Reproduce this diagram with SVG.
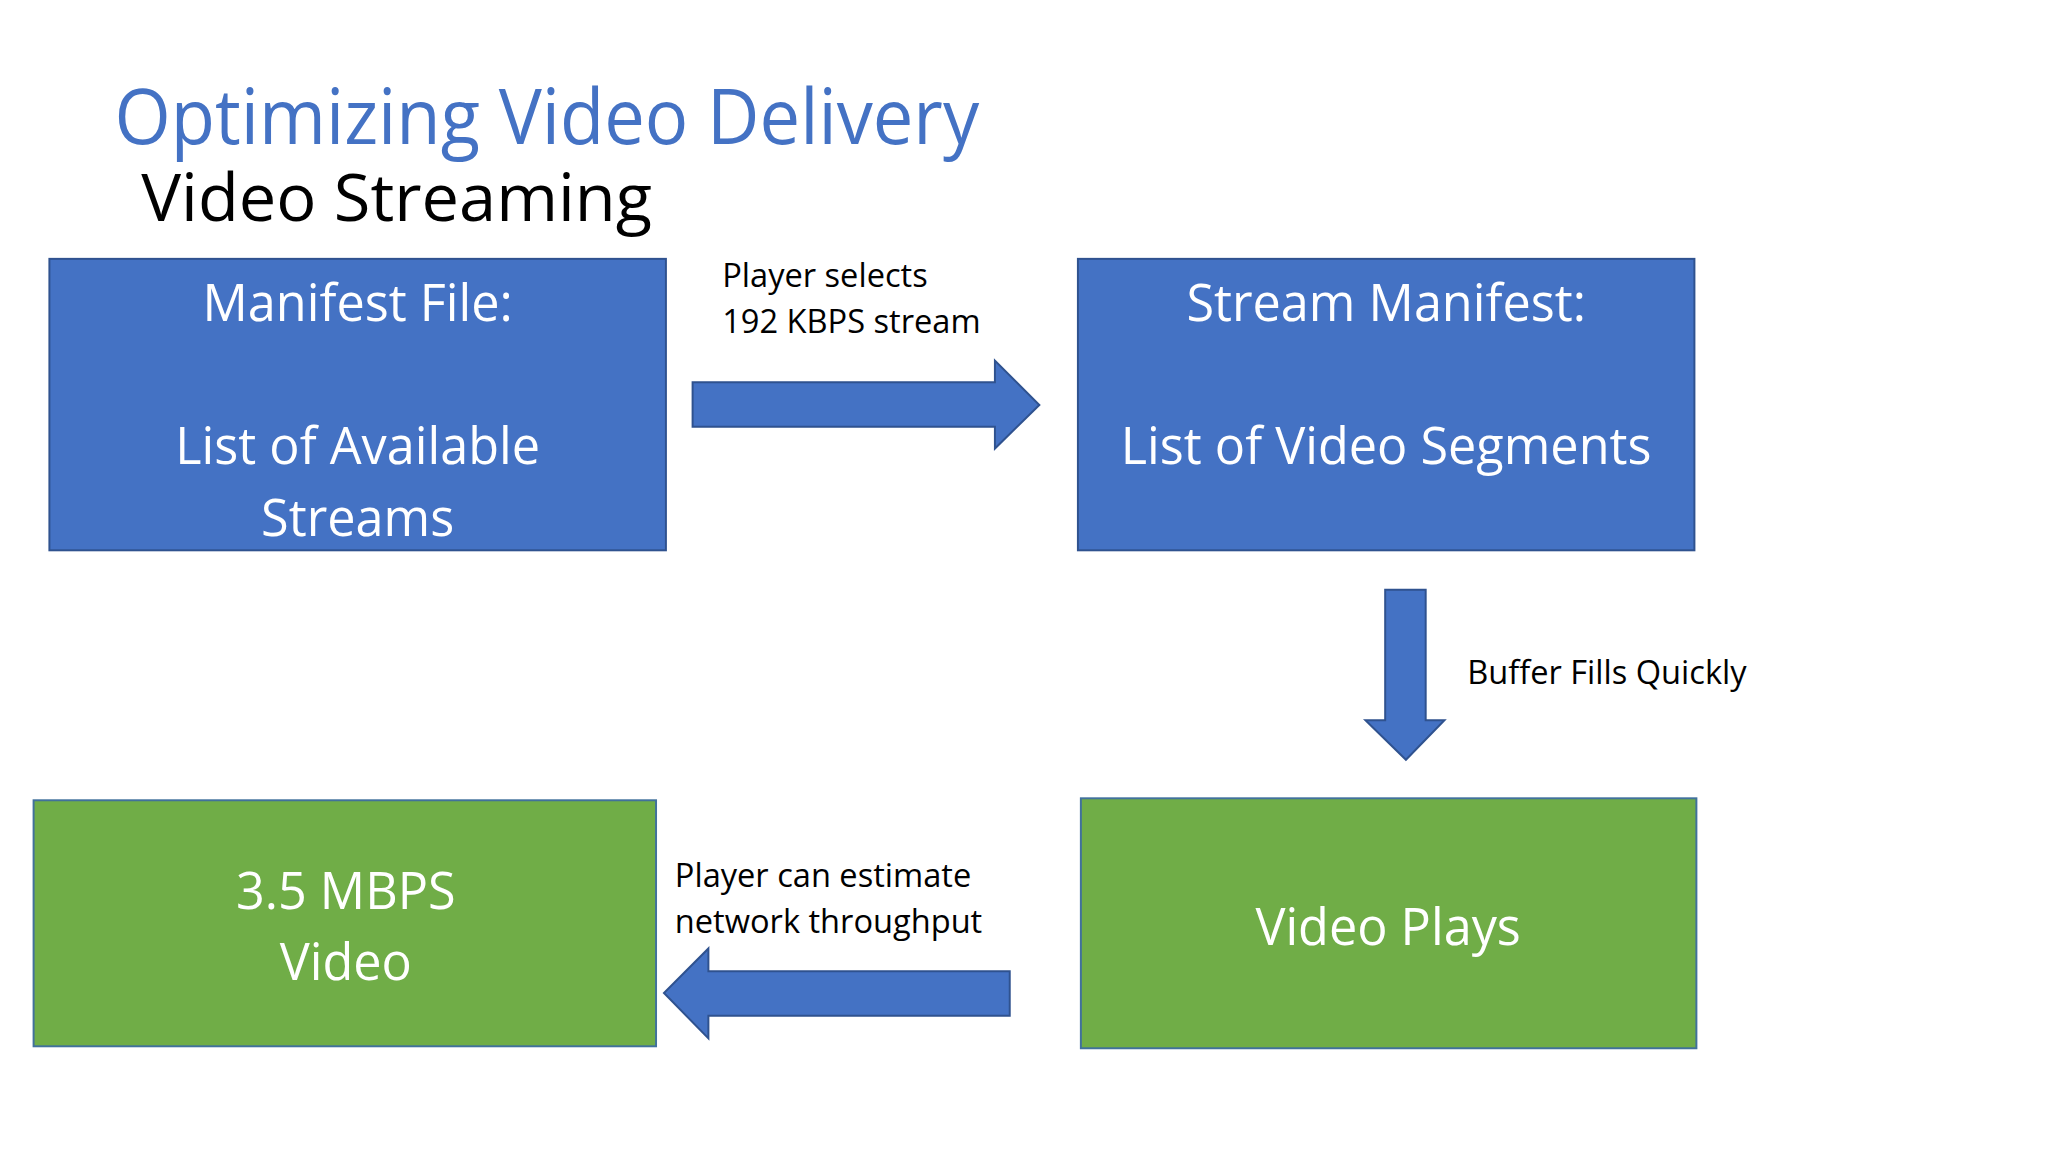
<svg xmlns="http://www.w3.org/2000/svg" width="2048" height="1152" viewBox="0 0 2048 1152">
<style>
.t{font-family:"Open Sans","Liberation Sans",sans-serif}
.bl{fill:#4472C4;stroke:#2F528F;stroke-width:2}
.gr{fill:#70AD47;stroke:#41719C;stroke-width:2}
.bt{fill:#fff;font-size:51px;text-anchor:middle}
.lb{fill:#000;font-size:33px}
.ar{fill:#4472C4;stroke:#2F528F;stroke-width:2}
</style>
<rect width="2048" height="1152" fill="#fff"/>
<g transform="scale(0.988)">
<text class="t" x="116" y="146" font-size="78" fill="#4472C4" textLength="875" lengthAdjust="spacingAndGlyphs">Optimizing Video Delivery</text>
<text class="t" x="143" y="224" font-size="66" fill="#000" textLength="517" lengthAdjust="spacingAndGlyphs">Video Streaming</text>
<g id="manifest"><rect class="bl" x="50" y="262" width="624" height="295"/>
<text class="t bt" x="362" y="325">Manifest File:</text>
<text class="t bt" x="362" y="470">List of Available</text>
<text class="t bt" x="362" y="543">Streams</text></g>
<g id="stream"><rect class="bl" x="1091" y="262" width="624" height="295"/>
<text class="t bt" x="1403" y="325">Stream Manifest:</text>
<text class="t bt" x="1403" y="470">List of Video Segments</text></g>
<g id="mbps"><rect class="gr" x="34" y="810" width="630" height="249"/>
<text class="t bt" x="350" y="920">3.5 MBPS</text>
<text class="t bt" x="350" y="992">Video</text></g>
<g id="plays"><rect class="gr" x="1094" y="808" width="623" height="253"/>
<text class="t bt" x="1405" y="956">Video Plays</text></g>
<g id="connectors">
<polygon class="ar" points="701,387 1007,387 1007,365 1052,410 1007,454 1007,432 701,432"/>
<polygon class="ar" points="1402,597 1443,597 1443,729 1462,729 1423,769 1382,729 1402,729"/>
<polygon class="ar" points="1022,983 717,983 717,960 672,1005 717,1051 717,1028 1022,1028"/>
<text class="t lb" x="731" y="290">Player selects</text>
<text class="t lb" x="731" y="337">192 KBPS stream</text>
<text class="t lb" x="1485" y="692">Buffer Fills Quickly</text>
<text class="t lb" x="683" y="898">Player can estimate</text>
<text class="t lb" x="683" y="944">network throughput</text>
</g>
</g>
</svg>
